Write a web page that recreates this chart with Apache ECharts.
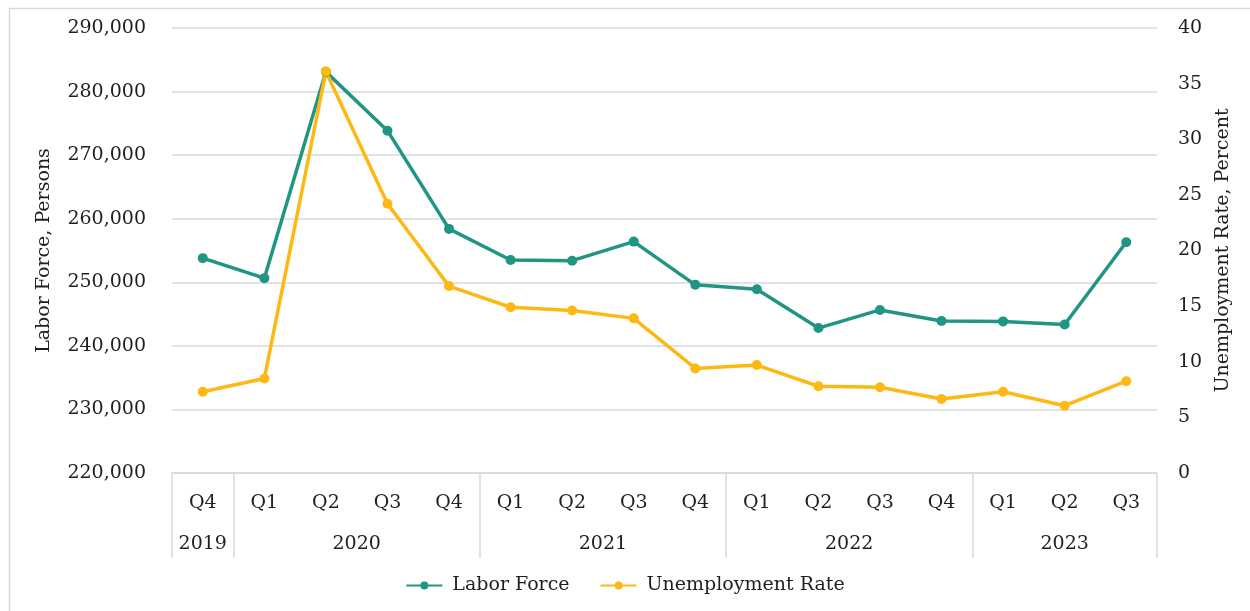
<!DOCTYPE html>
<html><head><meta charset="utf-8">
<script src="https://cdn.jsdelivr.net/npm/echarts@6/dist/echarts.min.js"></script>
<style>html,body{margin:0;padding:0;background:#fff}#c{width:1250px;height:611px}</style>
</head><body><div id="c"></div>
<script>
const quarters = ['Q4','Q1','Q2','Q3','Q4','Q1','Q2','Q3','Q4','Q1','Q2','Q3','Q4','Q1','Q2','Q3'];
const years = ['2019','2020','2021','2022','2023'];
const yearSpans = [1,4,4,4,3];
const laborForce = [253800,250650,283100,273850,258400,253500,253400,256400,249600,248900,242800,245650,243900,243850,243350,256300];
const unemploymentRate = [7.3,8.5,36.1,24.2,16.8,14.9,14.6,13.9,9.4,9.7,7.8,7.7,6.65,7.3,6.05,8.25];
const leftTicks = {min:220000, max:290000, step:10000};
const rightTicks = {min:0, max:40, step:5};

// half-step points for the year-level axis: 2*N+1 points
const N = quarters.length;
const halfPts = [];
for (let i=0;i<=2*N;i++) halfPts.push(String(i));
const yearLabelAt = {}; const boundaries = new Set([0]);
let acc = 0;
years.forEach((y,i)=>{ const start=acc*2, end=(acc+yearSpans[i])*2; yearLabelAt[(start+end)/2]=y; boundaries.add(end); acc+=yearSpans[i]; });

const font = 'DejaVu Serif';
const txt = '#1f1f1f';
const chart = echarts.init(document.getElementById('c'));
chart.setOption({
  animation:false,
  textStyle:{fontFamily:font},
  graphic:[{type:'rect',left:7,top:6,shape:{width:1260,height:620},style:{fill:'none',stroke:'#d9d9d9',lineWidth:1.5},silent:true}],
  legend:{bottom:11,left:'center',itemWidth:36,itemHeight:10,itemGap:30,
    textStyle:{fontFamily:font,fontSize:19,color:txt,padding:[0,0,0,5]},data:['Labor Force','Unemployment Rate']},
  grid:[{left:172,right:93,top:28,height:445},{left:172,right:93,top:473,height:85}],
  xAxis:[
    {type:'category',gridIndex:0,data:quarters,boundaryGap:true,
     axisLine:{lineStyle:{color:'#d9d9d9',width:1.5}},axisTick:{show:false},
     axisLabel:{color:txt,fontSize:19,margin:21}},
    {type:'category',gridIndex:1,data:halfPts,boundaryGap:false,position:'bottom',
     axisLine:{show:false},axisTick:{show:false},
     axisLabel:{inside:true,margin:4,color:txt,fontSize:19,interval:0,
       formatter:(v,i)=>yearLabelAt[i]||''},
     splitLine:{show:true,interval:(i)=>boundaries.has(i),lineStyle:{color:'#d9d9d9',width:1.5}}}
  ],
  yAxis:[
    {type:'value',gridIndex:0,min:leftTicks.min,max:leftTicks.max,interval:leftTicks.step,
     name:'Labor Force, Persons',nameLocation:'middle',nameGap:118,nameRotate:90,
     nameTextStyle:{fontFamily:font,fontSize:19,color:txt},
     axisLine:{show:false},axisTick:{show:false},
     axisLabel:{color:txt,fontSize:19,margin:26,formatter:v=>v.toLocaleString('en-US')},
     splitLine:{lineStyle:{color:'#d9d9d9',width:1.5}}},
    {type:'value',gridIndex:0,min:rightTicks.min,max:rightTicks.max,interval:rightTicks.step,position:'right',
     name:'Unemployment Rate, Percent',nameLocation:'middle',nameGap:54,nameRotate:90,
     nameTextStyle:{fontFamily:font,fontSize:19,color:txt},
     axisLine:{show:false},axisTick:{show:false},splitLine:{show:false},
     axisLabel:{color:txt,fontSize:19,margin:21}},
    {type:'value',gridIndex:1,show:false}
  ],
  series:[
    {name:'Labor Force',type:'line',xAxisIndex:0,yAxisIndex:0,data:laborForce,
     symbol:'circle',symbolSize:10,itemStyle:{color:'#219584'},lineStyle:{width:3.5,color:'#219584'}},
    {name:'Unemployment Rate',type:'line',xAxisIndex:0,yAxisIndex:1,data:unemploymentRate,
     symbol:'circle',symbolSize:10,itemStyle:{color:'#FDB813'},lineStyle:{width:3.5,color:'#FDB813'}}
  ]
});
</script></body></html>
